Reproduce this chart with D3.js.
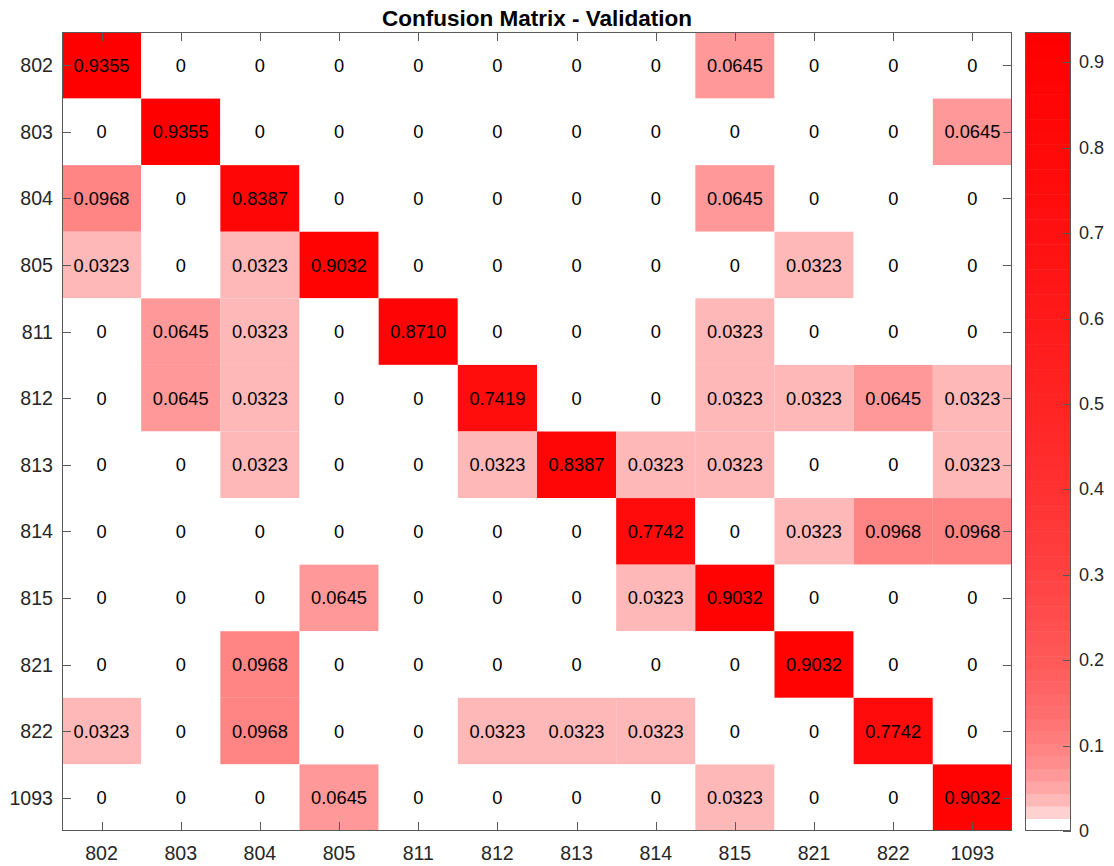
<!DOCTYPE html>
<html>
<head>
<meta charset="utf-8">
<script src="https://cdn.jsdelivr.net/npm/d3@7"></script>
<style>
  html, body { margin: 0; padding: 0; background: #fff; }
  svg { display: block; font-family: "Liberation Sans", Arial, Helvetica, sans-serif; }
</style>
</head>
<body>
<svg id="chart" width="1114" height="866"></svg>
<script>
// Class labels (true class on rows, predicted class on columns)
const classes = ["802", "803", "804", "805", "811", "812", "813", "814", "815", "821", "822", "1093"];

// Row-normalised confusion matrix, one array per true class
const row802  = [0.9355, 0, 0, 0, 0, 0, 0, 0, 0.0645, 0, 0, 0];
const row803  = [0, 0.9355, 0, 0, 0, 0, 0, 0, 0, 0, 0, 0.0645];
const row804  = [0.0968, 0, 0.8387, 0, 0, 0, 0, 0, 0.0645, 0, 0, 0];
const row805  = [0.0323, 0, 0.0323, 0.9032, 0, 0, 0, 0, 0, 0.0323, 0, 0];
const row811  = [0, 0.0645, 0.0323, 0, 0.8710, 0, 0, 0, 0.0323, 0, 0, 0];
const row812  = [0, 0.0645, 0.0323, 0, 0, 0.7419, 0, 0, 0.0323, 0.0323, 0.0645, 0.0323];
const row813  = [0, 0, 0.0323, 0, 0, 0.0323, 0.8387, 0.0323, 0.0323, 0, 0, 0.0323];
const row814  = [0, 0, 0, 0, 0, 0, 0, 0.7742, 0, 0.0323, 0.0968, 0.0968];
const row815  = [0, 0, 0, 0.0645, 0, 0, 0, 0.0323, 0.9032, 0, 0, 0];
const row821  = [0, 0, 0.0968, 0, 0, 0, 0, 0, 0, 0.9032, 0, 0];
const row822  = [0.0323, 0, 0.0968, 0, 0, 0.0323, 0.0323, 0.0323, 0, 0, 0.7742, 0];
const row1093 = [0, 0, 0, 0.0645, 0, 0, 0, 0, 0.0323, 0, 0, 0.9032];

const matrix = [row802, row803, row804, row805, row811, row812, row813, row814, row815, row821, row822, row1093];

const colorbarTicks = [0, 0.1, 0.2, 0.3, 0.4, 0.5, 0.6, 0.7, 0.8, 0.9];
const titleText = "Confusion Matrix - Validation";

// ---- layout ----
const plot = { left: 62, right: 1012, top: 32, bottom: 831 };
const cbar = { left: 1025, right: 1071, top: 32, bottom: 831 };
const axisColor = "#5a5a5a";
const labelColor = "#262626";
const tickLen = 9;

const svg = d3.select("#chart");

const x = d3.scaleBand().domain(classes).range([plot.left, plot.right]);
const y = d3.scaleBand().domain(classes).range([plot.top, plot.bottom]);

// ---- discrete white-to-red colormap (64 entries, log-shaped ramp) ----
const nColors = 64;
const rampK = 74;
const cmap = d3.range(nColors).map(i => {
  const t = i / (nColors - 1);
  const g = 1 - Math.log(1 + rampK * t) / Math.log(1 + rampK);
  const c = Math.round(255 * g);
  return d3.rgb(255, c, c).formatHex();
});

const cmin = 0;
const cmax = d3.max(matrix.flat());
function colorOf(v) {
  let idx = Math.floor((v - cmin) / (cmax - cmin) * nColors);
  idx = Math.max(0, Math.min(nColors - 1, idx));
  return cmap[idx];
}

// ---- cells ----
const cells = [];
matrix.forEach((row, r) => row.forEach((v, c) => cells.push({ r: classes[r], c: classes[c], v })));

svg.append("g").selectAll("rect")
  .data(cells)
  .join("rect")
  .attr("x", d => x(d.c))
  .attr("y", d => y(d.r))
  .attr("width", x.bandwidth())
  .attr("height", y.bandwidth())
  .attr("fill", d => colorOf(d.v));

// ---- cell value labels ----
svg.append("g").selectAll("text")
  .data(cells)
  .join("text")
  .attr("x", d => x(d.c) + x.bandwidth() / 2)
  .attr("y", d => y(d.r) + y.bandwidth() / 2)
  .attr("text-anchor", "middle")
  .attr("dominant-baseline", "central")
  .attr("font-size", 18.3)
  .attr("fill", "#000")
  .text(d => d.v === 0 ? "0" : d.v.toFixed(4));

// ---- axes (box with inward ticks on all four sides) ----
const axes = svg.append("g").attr("stroke", axisColor).attr("stroke-width", 1).attr("fill", "none");
axes.append("rect")
  .attr("x", plot.left + 0.5).attr("y", plot.top + 0.5)
  .attr("width", plot.right - plot.left - 1).attr("height", plot.bottom - plot.top - 1);

classes.forEach(k => {
  const cx = Math.round(x(k) + x.bandwidth() / 2) + 0.5;
  const cy = Math.round(y(k) + y.bandwidth() / 2) + 0.5;
  axes.append("line").attr("x1", cx).attr("x2", cx).attr("y1", plot.bottom).attr("y2", plot.bottom - tickLen);
  axes.append("line").attr("x1", cx).attr("x2", cx).attr("y1", plot.top).attr("y2", plot.top + tickLen);
  axes.append("line").attr("x1", plot.left).attr("x2", plot.left + tickLen).attr("y1", cy).attr("y2", cy);
  axes.append("line").attr("x1", plot.right).attr("x2", plot.right - tickLen).attr("y1", cy).attr("y2", cy);
});

// tick labels
svg.append("g").selectAll("text")
  .data(classes)
  .join("text")
  .attr("x", d => x(d) + x.bandwidth() / 2)
  .attr("y", plot.bottom + 29)
  .attr("text-anchor", "middle")
  .attr("font-size", 19.6)
  .attr("fill", labelColor)
  .text(d => d);

svg.append("g").selectAll("text")
  .data(classes)
  .join("text")
  .attr("x", plot.left - 9)
  .attr("y", d => y(d) + y.bandwidth() / 2)
  .attr("text-anchor", "end")
  .attr("dominant-baseline", "central")
  .attr("font-size", 19.6)
  .attr("fill", labelColor)
  .text(d => d);

// ---- title ----
svg.append("text")
  .attr("x", (plot.left + plot.right) / 2)
  .attr("y", 26)
  .attr("text-anchor", "middle")
  .attr("font-size", 22.5)
  .attr("font-weight", "bold")
  .attr("fill", "#000")
  .text(titleText);

// ---- colorbar ----
const cScale = d3.scaleLinear().domain([cmin, cmax]).range([cbar.bottom, cbar.top]);
const bandH = (cbar.bottom - cbar.top) / nColors;
svg.append("g").selectAll("rect")
  .data(cmap)
  .join("rect")
  .attr("x", cbar.left)
  .attr("y", (d, i) => cbar.bottom - (i + 1) * bandH)
  .attr("width", cbar.right - cbar.left)
  .attr("height", bandH + 0.5)
  .attr("fill", d => d);

const cb = svg.append("g").attr("stroke", axisColor).attr("fill", "none");
cb.append("rect")
  .attr("x", cbar.left + 0.5).attr("y", cbar.top + 0.5)
  .attr("width", cbar.right - cbar.left - 1).attr("height", cbar.bottom - cbar.top - 1);
colorbarTicks.forEach(t => {
  const ty = Math.round(cScale(t)) + 0.5;
  cb.append("line").attr("x1", cbar.right).attr("x2", cbar.right - 8).attr("y1", ty).attr("y2", ty);
});

svg.append("g").selectAll("text")
  .data(colorbarTicks)
  .join("text")
  .attr("x", cbar.right + 8)
  .attr("y", d => cScale(d))
  .attr("dominant-baseline", "central")
  .attr("font-size", 18)
  .attr("fill", labelColor)
  .text(d => d === 0 ? "0" : d.toFixed(1));
</script>
</body>
</html>
